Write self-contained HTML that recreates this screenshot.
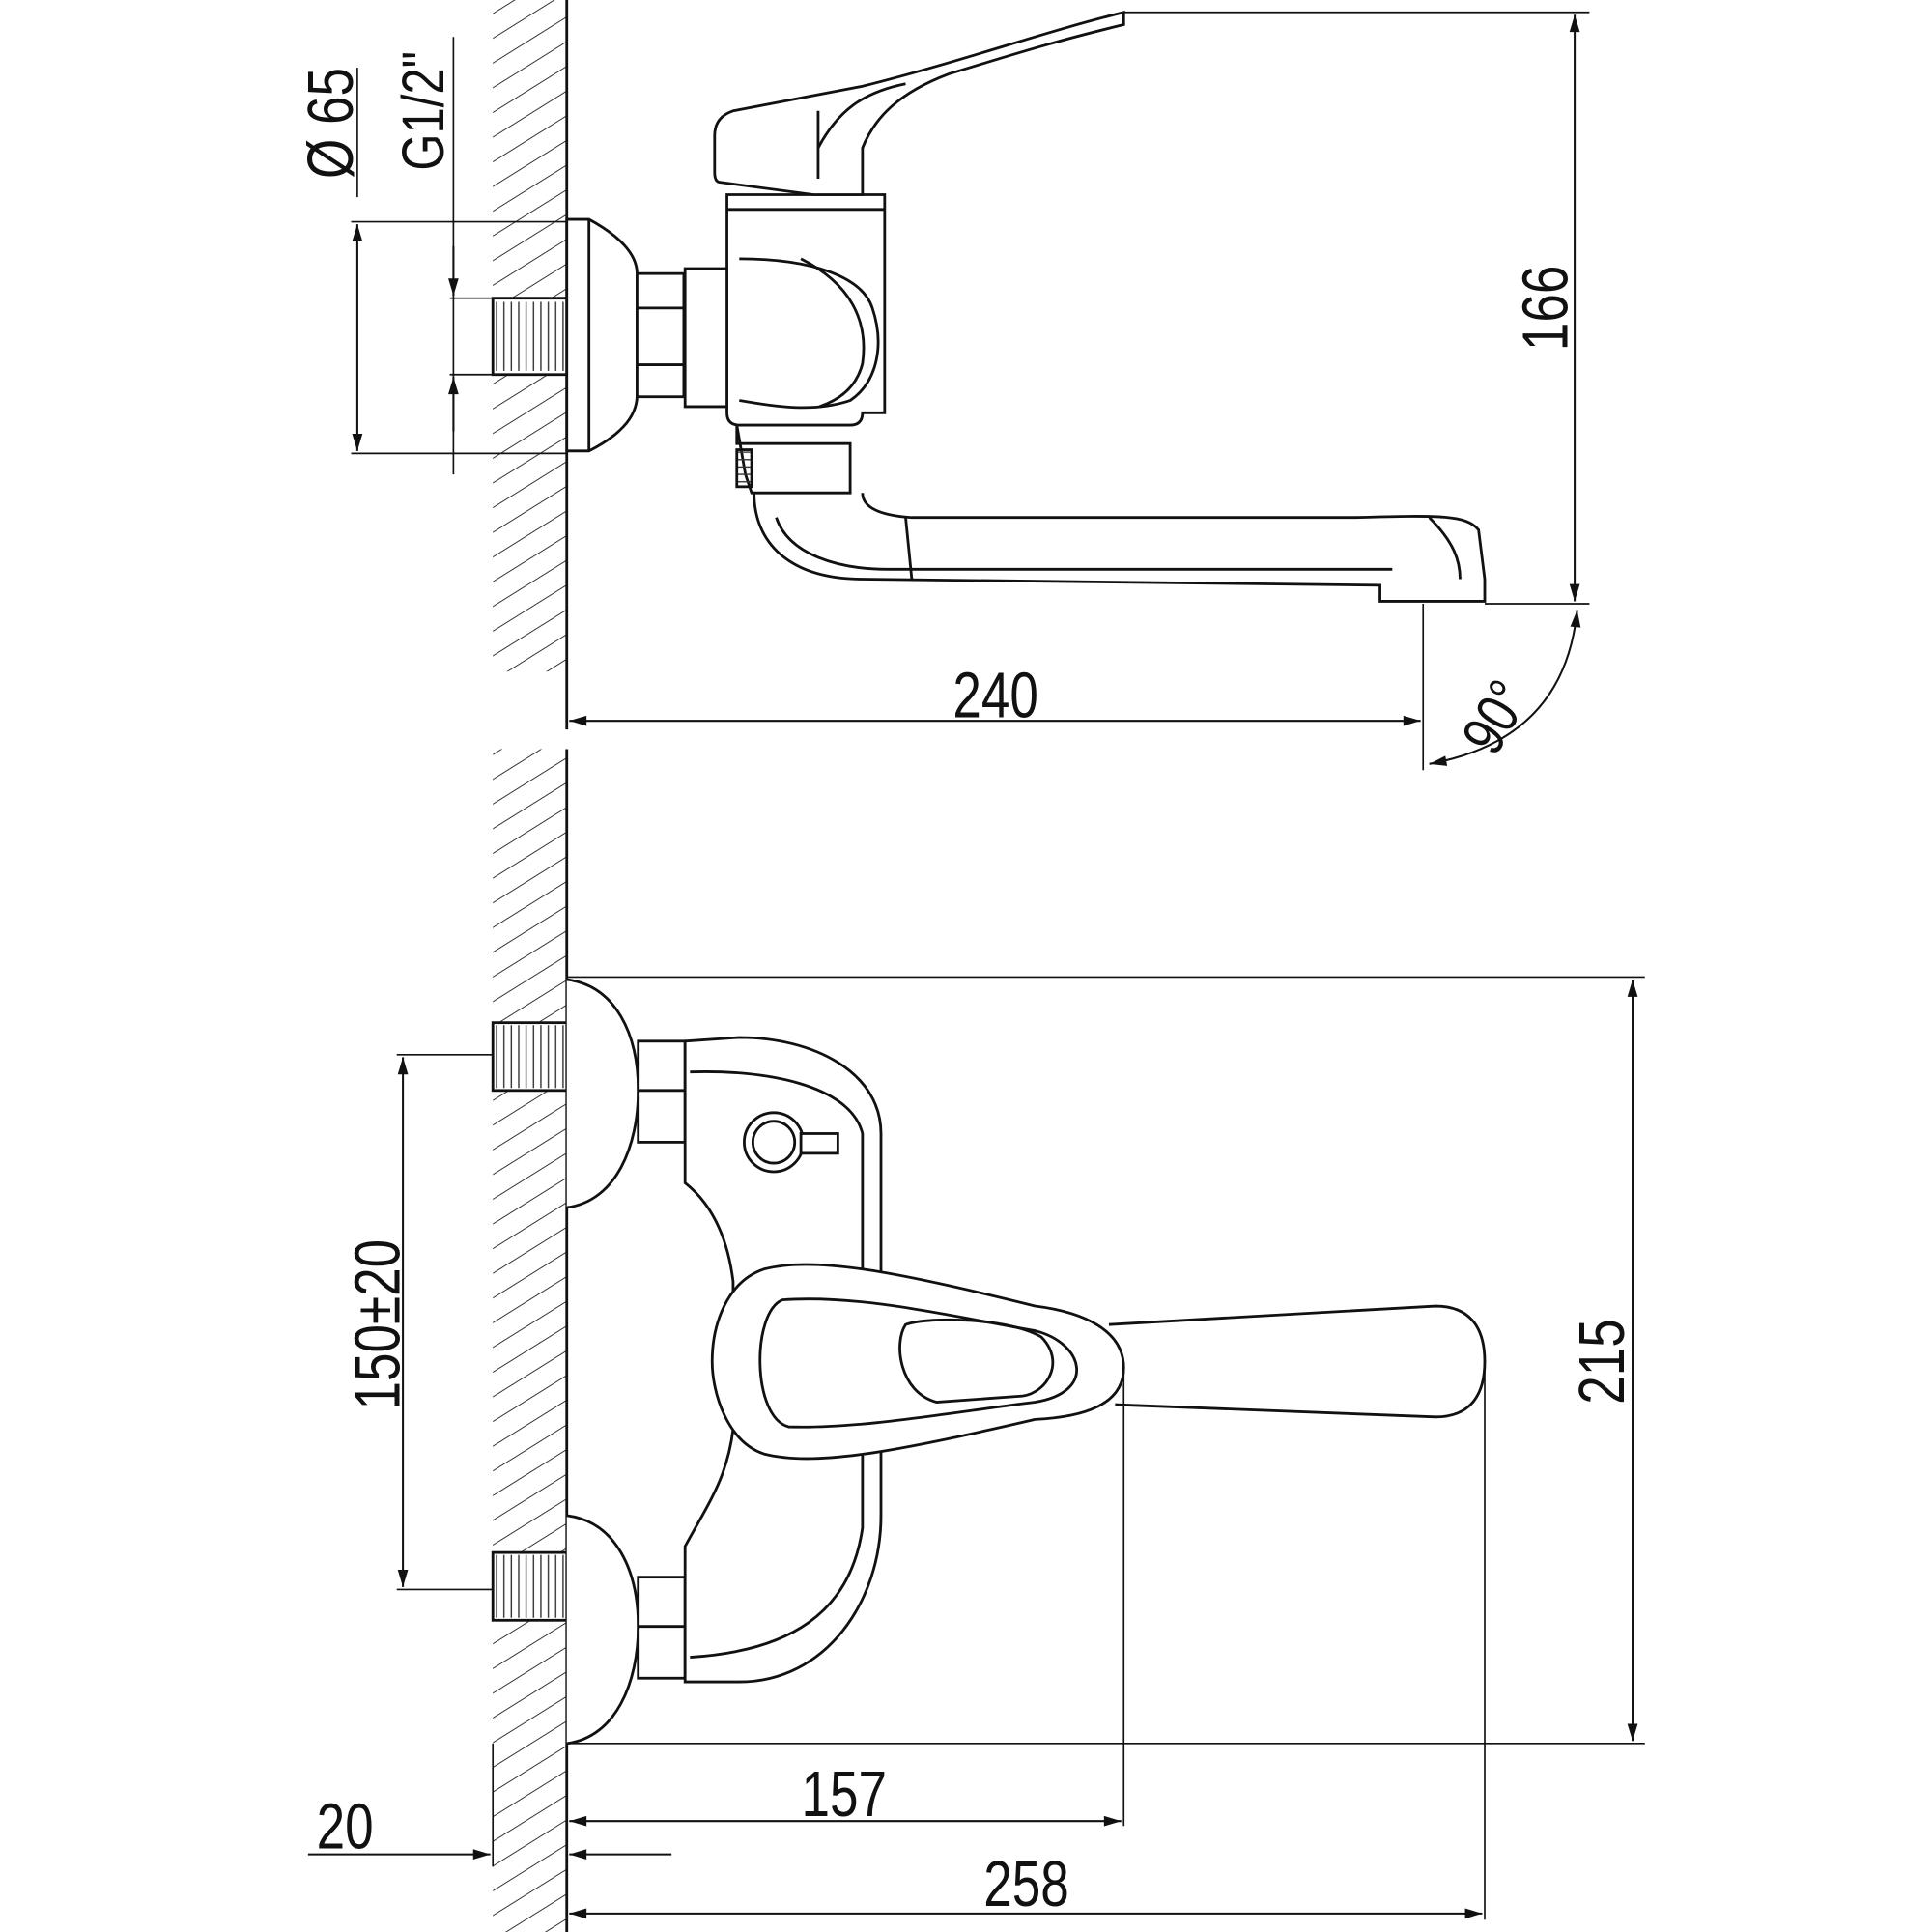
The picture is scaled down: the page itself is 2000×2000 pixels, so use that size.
<!DOCTYPE html>
<html><head><meta charset="utf-8"><style>
html,body{margin:0;padding:0;background:#fff}
svg{display:block}
text{font-family:"Liberation Sans",sans-serif;fill:#111}
</style></head><body>
<svg width="2000" height="2000" viewBox="0 0 1568 1568" xmlns="http://www.w3.org/2000/svg">
<defs>
<pattern id="h" width="17" height="17" patternUnits="userSpaceOnUse" patternTransform="rotate(-32)">
<line x1="0" y1="0" x2="30" y2="0" stroke="#333" stroke-width="1.5"/>
</pattern>
<pattern id="tv" width="6" height="6" patternUnits="userSpaceOnUse">
<line x1="1" y1="0" x2="1" y2="6" stroke="#333" stroke-width="1.1"/>
</pattern>
<pattern id="th" width="6" height="6" patternUnits="userSpaceOnUse">
<line x1="0" y1="1" x2="6" y2="1" stroke="#333" stroke-width="1.1"/>
</pattern>
<marker id="a" viewBox="0 0 10 10" refX="10" refY="5" markerWidth="16" markerHeight="14" orient="auto-start-reverse" markerUnits="userSpaceOnUse">
<path d="M0,2 L10,5 L0,8 z" fill="#111"/>
</marker>
</defs>
<g fill="none" stroke="#111" stroke-width="2.2">
<!-- walls -->
<rect x="400" y="0" width="60" height="545" fill="url(#h)" stroke="none"/>
<rect x="400" y="608" width="60" height="960" fill="url(#h)" stroke="none"/>
<line x1="460" y1="0" x2="460" y2="592"/>
<line x1="460" y1="608" x2="460" y2="1568"/>

<!-- TOP VIEW -->
<rect x="400" y="242" width="60" height="62" fill="#fff"/>
<rect x="402" y="245" width="56" height="56" fill="url(#tv)" stroke="none"/>
<path d="M460,178 L478,178 C500,190 517,205 517,222 L517,321 C517,340 500,355 478,366 L460,366 Z" fill="#fff"/>
<line x1="478" y1="178" x2="478" y2="366"/>
<rect x="517" y="222" width="38" height="100" fill="#fff"/>
<line x1="517" y1="250" x2="555" y2="250"/><line x1="517" y1="296" x2="555" y2="296"/>
<path d="M590,158 L590,335 Q590,345 600,345 L690,345 Q700,345 700,335 L718,335 L718,158 Z" fill="#fff"/>
<line x1="590" y1="170" x2="718" y2="170"/>
<path d="M556,218 L590,218 L590,330 L556,330 Z" fill="#fff"/>
<path d="M600,210 C660,210 700,225 708,250 C718,280 712,310 690,325 C660,335 630,330 600,325"/>
<path d="M650,210 C690,230 705,260 700,295 C695,315 680,325 665,330"/>
<path d="M580,110 Q580,95 595,90 L700,70 C780,50 850,25 912,10 L912,20 C850,35 820,45 770,60 C730,75 710,95 700,120 L700,158 L660,158 L585,148 Q580,148 580,140 Z" fill="#fff"/>
<path d="M664,120 C680,90 700,75 735,68"/>
<line x1="664" y1="90" x2="664" y2="145"/>
<path d="M598,345 L598,360 L690,360 L690,400 L610,400 L605,385 Z" fill="#fff"/>
<rect x="598" y="365" width="12" height="30" fill="url(#th)"/>
<path d="M612,400 C612,440 640,470 700,470 L1120,475 L1120,488 L1205,488 L1205,470 L1200,430 C1190,418 1170,418 1100,420 L740,420 C710,418 700,410 700,400"/>
<path d="M630,420 C640,450 680,462 720,462 L1130,462"/>
<path d="M735,420 L740,470"/>
<path d="M1160,420 C1180,440 1185,455 1185,470"/>

<!-- top dimensions -->
<line x1="912" y1="10" x2="1290" y2="10" stroke-width="1.3"/>
<line x1="1205" y1="490" x2="1290" y2="490" stroke-width="1.3"/>
<line x1="1278" y1="12" x2="1278" y2="488" stroke-width="1.6" marker-start="url(#a)" marker-end="url(#a)"/>
<line x1="1155" y1="490" x2="1155" y2="625" stroke-width="1.3"/>
<line x1="462" y1="585" x2="1153" y2="585" stroke-width="1.6" marker-start="url(#a)" marker-end="url(#a)"/>
<path d="M1160,620 Q1270,600 1280,495" stroke-width="1.6" marker-start="url(#a)" marker-end="url(#a)"/>
<line x1="285" y1="180" x2="460" y2="180" stroke-width="1.3"/>
<line x1="285" y1="368" x2="460" y2="368" stroke-width="1.3"/>
<line x1="290" y1="182" x2="290" y2="366" stroke-width="1.6" marker-start="url(#a)" marker-end="url(#a)"/>
<line x1="290" y1="55" x2="290" y2="160" stroke-width="1.3"/>
<line x1="365" y1="242" x2="400" y2="242" stroke-width="1.3"/>
<line x1="365" y1="304" x2="400" y2="304" stroke-width="1.3"/>
<line x1="368" y1="30" x2="368" y2="385" stroke-width="1.3"/>
<line x1="368" y1="200" x2="368" y2="240" stroke-width="1.6" marker-end="url(#a)"/>
<line x1="368" y1="350" x2="368" y2="306" stroke-width="1.6" marker-end="url(#a)"/>

<!-- BOTTOM VIEW -->
<rect x="400" y="830" width="60" height="55" fill="#fff"/><rect x="402" y="832" width="56" height="51" fill="url(#tv)" stroke="none"/>
<rect x="400" y="1260" width="60" height="55" fill="#fff"/><rect x="402" y="1262" width="56" height="51" fill="url(#tv)" stroke="none"/>
<path d="M460,795 C500,800 518,840 518,885 C518,930 500,975 460,980" fill="#fff"/>
<path d="M460,1230 C500,1235 518,1275 518,1320 C518,1365 500,1410 460,1415" fill="#fff"/>
<rect x="518" y="845" width="38" height="82" fill="#fff"/><line x1="518" y1="885" x2="556" y2="885"/>
<rect x="518" y="1280" width="38" height="82" fill="#fff"/><line x1="518" y1="1320" x2="556" y2="1320"/>
<path d="M556,845 L600,842 C660,842 715,870 715,920 L715,1060 L715,1230 C715,1300 670,1365 600,1365 L556,1365 L556,1255 C575,1220 590,1200 595,1160 L595,1040 C590,1000 575,975 556,960 Z" fill="#fff"/>
<path d="M560,870 C620,868 690,880 700,920 L700,1040"/>
<path d="M700,1160 L700,1240 C690,1310 640,1340 560,1345"/>
<circle cx="628" cy="927" r="24" fill="#fff"/><circle cx="628" cy="927" r="17"/>
<rect x="650" y="920" width="30" height="16" fill="#fff"/>
<path d="M620,1030 C660,1020 720,1030 840,1060 C880,1065 912,1080 912,1110 C912,1140 880,1150 840,1152 C720,1180 660,1190 620,1180 C590,1170 578,1130 578,1105 C578,1075 590,1040 620,1030 Z" fill="#fff"/>
<path d="M635,1055 C700,1050 780,1070 840,1080 C880,1090 890,1130 840,1138 C780,1145 700,1160 640,1158 C610,1150 610,1065 635,1055 Z"/>
<path d="M735,1075 C755,1068 820,1070 845,1085 C865,1105 850,1130 830,1133 L760,1138 C730,1130 725,1090 735,1075 Z"/>
<path d="M900,1075 L1165,1060 C1195,1060 1205,1080 1205,1105 C1205,1130 1195,1150 1165,1150 L905,1140"/>
<!-- bottom dims -->
<line x1="460" y1="793" x2="1335" y2="793" stroke-width="1.3"/>
<line x1="460" y1="1415" x2="1335" y2="1415" stroke-width="1.3"/>
<line x1="1325" y1="795" x2="1325" y2="1413" stroke-width="1.6" marker-start="url(#a)" marker-end="url(#a)"/>
<line x1="322" y1="856" x2="400" y2="856" stroke-width="1.3"/>
<line x1="322" y1="1290" x2="400" y2="1290" stroke-width="1.3"/>
<line x1="327" y1="858" x2="327" y2="1288" stroke-width="1.6" marker-start="url(#a)" marker-end="url(#a)"/>
<line x1="912" y1="1110" x2="912" y2="1482" stroke-width="1.3"/>
<line x1="1205" y1="1110" x2="1205" y2="1558" stroke-width="1.3"/>
<line x1="462" y1="1478" x2="910" y2="1478" stroke-width="1.6" marker-start="url(#a)" marker-end="url(#a)"/>
<line x1="462" y1="1553" x2="1203" y2="1553" stroke-width="1.6" marker-start="url(#a)" marker-end="url(#a)"/>
<line x1="400" y1="1415" x2="400" y2="1515" stroke-width="1.3"/>
<line x1="250" y1="1505" x2="398" y2="1505" stroke-width="1.6" marker-end="url(#a)"/>
<line x1="545" y1="1505" x2="462" y2="1505" stroke-width="1.6" marker-end="url(#a)"/>
</g>
<g font-size="52" text-anchor="middle">
<text transform="translate(808,582) scale(0.8,1)">240</text>
<text transform="translate(1272,250) rotate(-90) scale(0.8,1)">166</text>
<text transform="translate(1228,590) rotate(-60) scale(0.8,1)" font-size="48">90°</text>
<text transform="translate(286,100) rotate(-90) scale(0.8,1)">Ø 65</text>
<text transform="translate(360,90) rotate(-90) scale(0.8,1)" font-size="48">G1/2"</text>
<text transform="translate(1318,1105) rotate(-90) scale(0.8,1)">215</text>
<text transform="translate(324,1075) rotate(-90) scale(0.8,1)">150±20</text>
<text transform="translate(685,1474) scale(0.8,1)">157</text>
<text transform="translate(833,1547) scale(0.8,1)">258</text>
<text transform="translate(280,1500) scale(0.8,1)">20</text>
</g>
</svg>
</body></html>
